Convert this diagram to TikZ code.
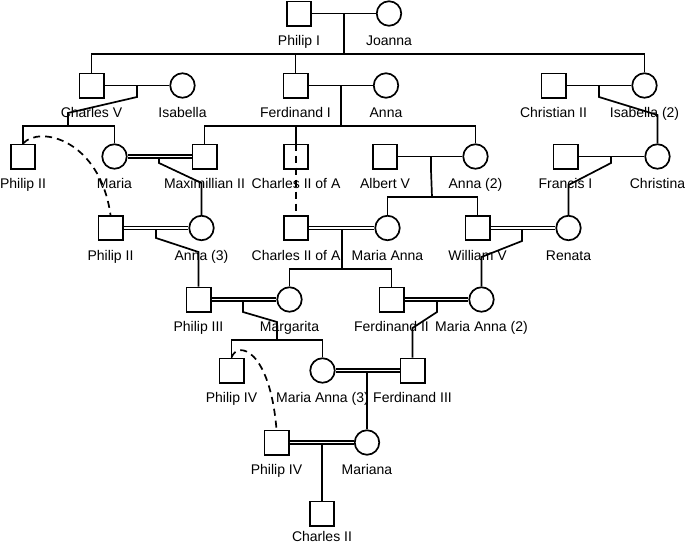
\documentclass[tikz,border=0pt]{standalone}
\usepackage{fontspec}
\setmainfont{Liberation Sans}
\usetikzlibrary{calc}
\newcommand\indiv[4]{\node[#1] (#2) at (#3) {};
  \node[lab] (#2-l) at ($(#2.south)+(0,19)$) {#4};}
\begin{document}
\begin{tikzpicture}[x=1pt,y=-1pt,
  male/.style={draw, line width=1.7pt, rectangle, minimum size=24.3pt, inner sep=0pt},
  female/.style={draw, line width=1.7pt, circle, minimum size=24.5pt, inner sep=0pt},
  lab/.style={anchor=base, inner sep=0pt, font=\fontsize{14}{16}\selectfont},
  rel/.style={line width=1.7pt},
  wed/.style={double, line width=1.6pt, double distance=1.4pt},
  link/.style={line width=1.7pt, dash pattern=on 7pt off 5pt}]
\useasboundingbox (0,0) rectangle (685,546);
% people
\indiv{male}{PhilipI}{299,13.5}{Philip I}
\indiv{female}{Joanna}{389,13.5}{Joanna}
\indiv{male}{CharlesV}{91.5,85.5}{Charles V}
\indiv{female}{Isabella}{182.5,85.5}{Isabella}
\indiv{male}{FerdinandI}{295.5,85.5}{Ferdinand I}
\indiv{female}{Anna}{386,85.5}{Anna}
\indiv{male}{ChristianII}{553.5,85.5}{Christian II}
\indiv{female}{IsabellaB}{644.5,85.5}{Isabella (2)}
\indiv{male}{PhilipII}{23,156.5}{Philip II}
\indiv{female}{Maria}{114.5,156.5}{Maria}
\indiv{male}{MaxII}{204.5,156.5}{Maximillian II}
\indiv{male}{CharlesIIA}{296,156.5}{Charles II of A}
\indiv{male}{AlbertV}{385,156.5}{Albert V}
\indiv{female}{AnnaB}{475.5,156.5}{Anna (2)}
\indiv{male}{FrancisI}{565.5,156.5}{Francis I}
\indiv{female}{Christina}{657.5,156.5}{Christina}
\indiv{male}{PhilipIIb}{110.5,228}{Philip II}
\indiv{female}{AnnaC}{201.5,228}{Anna (3)}
\indiv{male}{CharlesIIAb}{296,228}{Charles II of A}
\indiv{female}{MariaAnna}{387.5,228}{Maria Anna}
\indiv{male}{WilliamV}{477.5,228}{William V}
\indiv{female}{Renata}{568.5,228}{Renata}
\indiv{male}{PhilipIII}{198.5,299.5}{Philip III}
\indiv{female}{Margarita}{289.5,299.5}{Margarita}
\indiv{male}{FerdinandII}{391.5,299.5}{Ferdinand II}
\indiv{female}{MariaAnnaB}{481.5,299.5}{Maria Anna (2)}
\indiv{male}{PhilipIV}{231.5,370.5}{Philip IV}
\indiv{female}{MariaAnnaC}{322.5,370.5}{Maria Anna (3)}
\indiv{male}{FerdinandIII}{412.5,370.5}{Ferdinand III}
\indiv{male}{PhilipIVb}{276.5,442.5}{Philip IV}
\indiv{female}{Mariana}{367,442.5}{Mariana}
\node[male] (CharlesII) at (322,513.5) {};
\node[lab] (CharlesII-l) at ($(CharlesII.south)+(0,15)$) {Charles II};
% junctions
\coordinate (m1) at (344,13.5);  \coordinate (s1) at (344,54);
\coordinate (m2) at (137,85.5);  \coordinate (b2) at (137,97);  \coordinate (c2) at (68,113); \coordinate (s2) at (68,126);
\coordinate (m3) at (341,85.5);  \coordinate (s3) at (341,126);
\coordinate (m4) at (599,85.5);  \coordinate (b4) at (599,97);  \coordinate (c4) at (657.5,115);
\coordinate (m5) at (159,156.5); \coordinate (b5) at (159,163); \coordinate (c5) at (201.5,183);
\coordinate (m6) at (431,156.5); \coordinate (b6) at (431,170); \coordinate (s6) at (432,197);
\coordinate (m7) at (611,156.5); \coordinate (b7) at (611,163); \coordinate (c7) at (568.5,185);
\coordinate (m8) at (156,228);   \coordinate (b8) at (156,238); \coordinate (c8) at (198.5,252);
\coordinate (m9) at (342,228);   \coordinate (s9) at (342,269);
\coordinate (m10) at (522,228);  \coordinate (b10) at (522,241); \coordinate (c10) at (481.5,257);
\coordinate (m11) at (243,299.5); \coordinate (b11) at (243,312); \coordinate (c11) at (277,322); \coordinate (s11) at (277,340);
\coordinate (m12) at (437,299.5); \coordinate (b12) at (437,312); \coordinate (c12) at (412.5,328);
\coordinate (m13) at (367,370.5);
\coordinate (m14) at (322,442.5);
\coordinate (k1) at (40,125);  \coordinate (k2) at (100,140);
\coordinate (k3) at (238,340); \coordinate (k4) at (270,350);
% generation 1
\draw[rel] (PhilipI) -- (Joanna);
\draw[rel] (m1) -- (s1);
\draw[rel] (CharlesV.north) |- (s1) -| (IsabellaB.north);
\draw[rel] (FerdinandI.north) -- (FerdinandI.north |- s1);
% generation 2
\draw[rel] (CharlesV) -- (Isabella);
\draw[rel] (m2) -- (b2) -- (c2) -- (s2);
\draw[rel] (PhilipII.north) |- (s2) -| (Maria.north);
\draw[rel] (FerdinandI) -- (Anna);
\draw[rel] (m3) -- (s3);
\draw[rel] (MaxII.north) |- (s3) -| (AnnaB.north);
\draw[rel] (CharlesIIA.north) -- (CharlesIIA.north |- s3);
\draw[rel] (ChristianII) -- (IsabellaB);
\draw[rel] (m4) -- (b4) -- (c4) -- (Christina.north);
% generation 3
\draw[rel] (m5) -- (b5) -- (c5) -- (AnnaC.north);
\draw[wed] (Maria) -- (MaxII);
\draw[rel] (AlbertV) -- (AnnaB);
\draw[rel] (m6) -- (b6) -- (s6);
\draw[rel] (MariaAnna.north) |- (s6) -| (WilliamV.north);
\draw[rel] (FrancisI) -- (Christina);
\draw[rel] (m7) -- (b7) -- (c7) -- (Renata.north);
\draw[link] (CharlesIIA.north) -- (CharlesIIAb.north);
\draw[link] (PhilipII.north) .. controls (k1) and (k2) .. (PhilipIIb.north);
% generation 4
\draw[rel] (m8) -- (b8) -- (c8) -- (PhilipIII.north);
\draw[wed] (PhilipIIb) -- (AnnaC);
\draw[rel] (m9) -- (s9);
\draw[rel] (Margarita.north) |- (s9) -| (FerdinandII.north);
\draw[wed] (CharlesIIAb) -- (MariaAnna);
\draw[rel] (m10) -- (b10) -- (c10) -- (MariaAnnaB.north);
\draw[wed] (WilliamV) -- (Renata);
% generation 5
\draw[rel] (m11) -- (b11) -- (c11) -- (s11);
\draw[rel] (PhilipIV.north) |- (s11) -| (MariaAnnaC.north);
\draw[wed] (PhilipIII) -- (Margarita);
\draw[rel] (m12) -- (b12) -- (c12) -- (FerdinandIII.north);
\draw[wed] (FerdinandII) -- (MariaAnnaB);
% generation 6
\draw[rel] (m13) -- (Mariana.north);
\draw[wed] (MariaAnnaC) -- (FerdinandIII);
\draw[link] (PhilipIV.north) .. controls (k3) and (k4) .. (PhilipIVb.north);
% generation 7
\draw[rel] (m14) -- (CharlesII.north);
\draw[wed] (PhilipIVb) -- (Mariana);
\end{tikzpicture}
\end{document}
